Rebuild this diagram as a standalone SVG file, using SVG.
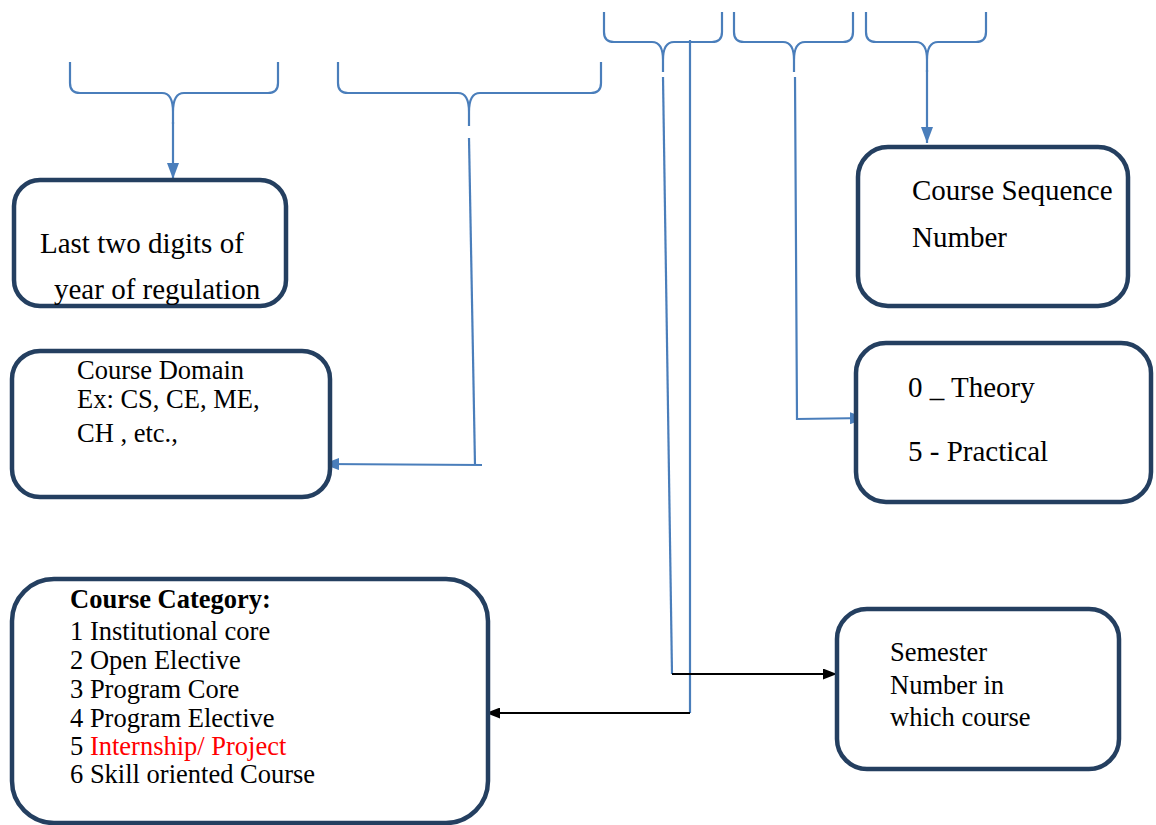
<svg xmlns="http://www.w3.org/2000/svg" width="1156" height="825" viewBox="0 0 1156 825">
<style>
.box{fill:#fff;stroke:#243F60;stroke-width:4.5}
.t{font-family:"Liberation Serif","Times New Roman",serif;fill:#000}
.big{font-size:29px}
.sm{font-size:26.5px}
.brace{fill:none;stroke:#4A7EBB;stroke-width:2.2}
.blue{fill:none;stroke:#4A7EBB;stroke-width:2.2}
.black{fill:none;stroke:#000;stroke-width:2}
</style>
<defs>
<marker id="ab" markerUnits="userSpaceOnUse" markerWidth="16" markerHeight="12" refX="16" refY="6" orient="auto">
<path d="M0,0 L16,6 L0,12 z" fill="#4A7EBB"/>
</marker>
<marker id="ak" markerUnits="userSpaceOnUse" markerWidth="14" markerHeight="11" refX="14" refY="5.5" orient="auto">
<path d="M0,0 L14,5.5 L0,11 z" fill="#000"/>
</marker>
</defs>
<rect width="1156" height="825" fill="#fff"/>

<g id="connectors">
<!-- braces -->
<path class="brace" d="M70,62 V83 Q70,93 80,93 H162 Q173,93 173,112 V124 M278,62 V83 Q278,93 268,93 H184 Q173,93 173,112"/>
<path class="brace" d="M338,62 V83 Q338,93 348,93 H458 Q469,93 469,112 V126 M601,62 V83 Q601,93 591,93 H480 Q469,93 469,112"/>
<path class="brace" d="M604,12 V32 Q604,42 614,42 H652 Q663,42 663,60 V72 M722,12 V32 Q722,42 712,42 H674 Q663,42 663,60"/>
<path class="brace" d="M734,12 V32 Q734,42 744,42 H783 Q794,42 794,60 V72 M853,12 V32 Q853,42 843,42 H805 Q794,42 794,60"/>
<path class="brace" d="M866,12 V32 Q866,42 876,42 H916 Q927,42 927,60 V72 M986,12 V32 Q986,42 976,42 H938 Q927,42 927,60"/>
<!-- arrows -->
<path class="blue" d="M173,122 V179" marker-end="url(#ab)"/>
<path class="blue" d="M927,70 V143" marker-end="url(#ab)"/>
<path class="blue" d="M469,138 L475,465"/>
<path class="blue" d="M482,465 L323,464" marker-end="url(#ab)"/>
<path class="blue" d="M795,77 L797,419 L866,418" marker-end="url(#ab)"/>
<path class="blue" d="M663,77 L672,674"/>
<path class="blue" d="M690,40 V713"/>
<path class="black" d="M672,674 H837" marker-end="url(#ak)"/>
<path class="black" d="M690,713 H486" marker-end="url(#ak)"/>
</g>

<g id="node-year">
<rect class="box" x="14" y="180" width="272" height="126" rx="26"/>
<text class="t big" x="40" y="253">Last two digits of</text>
<text class="t big" x="54" y="299">year of regulation</text>
</g>

<g id="node-domain">
<rect class="box" x="12" y="351" width="318" height="146" rx="28"/>
<text class="t sm" x="77" y="379">Course Domain</text>
<text class="t sm" x="77" y="408">Ex: CS, CE, ME,</text>
<text class="t sm" x="77" y="442">CH , etc.,</text>
</g>

<g id="node-category">
<rect class="box" x="12" y="579" width="476" height="244" rx="42"/>
<text class="t sm" x="70" y="608" font-weight="bold">Course Category:</text>
<text class="t sm" x="70" y="640">1 Institutional core</text>
<text class="t sm" x="70" y="669">2 Open Elective</text>
<text class="t sm" x="70" y="698">3 Program Core</text>
<text class="t sm" x="70" y="727">4 Program Elective</text>
<text class="t sm" x="70" y="755">5 <tspan fill="#FF0000">Internship/ Project</tspan></text>
<text class="t sm" x="70" y="783">6 Skill oriented Course</text>
</g>

<g id="node-sequence">
<rect class="box" x="858" y="147" width="270" height="159" rx="30"/>
<text class="t big" x="912" y="200">Course Sequence</text>
<text class="t big" x="912" y="247">Number</text>
</g>

<g id="node-type">
<rect class="box" x="856" y="343" width="295" height="159" rx="30"/>
<text class="t big" x="908" y="397">0 _ Theory</text>
<text class="t big" x="908" y="461">5 - Practical</text>
</g>

<g id="node-semester">
<rect class="box" x="837" y="609" width="282" height="160" rx="30"/>
<text class="t sm" x="890" y="661">Semester</text>
<text class="t sm" x="890" y="694">Number in</text>
<text class="t sm" x="890" y="726">which course</text>
</g>
</svg>
